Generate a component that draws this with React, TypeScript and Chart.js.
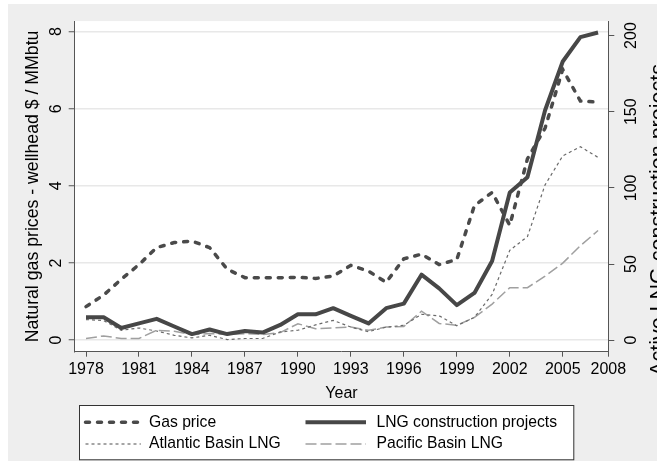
import React, { useEffect, useRef } from 'react';
import { Chart, registerables } from 'chart.js';

Chart.register(...registerables);

// ---------- data ----------
const years = [
  1978, 1979, 1980, 1981, 1982, 1983, 1984, 1985, 1986, 1987,
  1988, 1989, 1990, 1991, 1992, 1993, 1994, 1995, 1996, 1997,
  1998, 1999, 2000, 2001, 2002, 2003, 2004, 2005, 2006, 2007,
];
const gasPrice = [
  0.87, 1.17, 1.58, 1.96, 2.4, 2.53, 2.57, 2.4, 1.84, 1.62,
  1.62, 1.62, 1.63, 1.6, 1.66, 1.94, 1.79, 1.5, 2.11, 2.23,
  1.96, 2.09, 3.49, 3.83, 2.98, 4.7, 5.5, 7.02, 6.2, 6.17,
];
const lngProjects = [
  15, 15, 8, 11, 14, 9, 4, 7, 4, 6,
  5, 10, 17, 17, 21, 16, 11, 21, 24, 43,
  34, 23, 31, 52, 97, 107, 151, 183, 199, 202,
];
const atlanticLNG = [
  13.5, 12.9, 6.5, 8, 6, 3.2, 1.5, 3.2, 0.4, 1.1,
  1.1, 5.4, 6.5, 10, 13, 8.6, 5.6, 8.6, 9.7, 17,
  16, 9.5, 15, 30, 59, 68, 102, 121, 127, 120,
];
const pacificLNG = [
  1.1, 2.8, 1.1, 1.1, 6.5, 5.8, 3.7, 4.3, 3.7, 4.3,
  3.7, 5, 10.8, 7.5, 8, 8.6, 6.5, 8.6, 9, 19,
  11, 9.7, 15, 23.7, 34.5, 34.5, 42, 50.6, 62, 72,
];
const xTickYears = [1978, 1981, 1984, 1987, 1990, 1993, 1996, 1999, 2002, 2005, 2008];
const leftTicks = [0, 2, 4, 6, 8];
const rightTicks = [0, 50, 100, 150, 200];

const X_MIN = 1977.36;
const X_MAX = 2007.58;
const Y_MIN = -0.299;
const Y_MAX = 8.273;
const Y1_MIN = -7.57;
const Y1_MAX = 209.5;

const FONT = '"Liberation Sans", Arial, Helvetica, sans-serif';
const AXIS = '#555555';

const pts = (vals: number[]) => years.map((y, i) => ({ x: y, y: vals[i] }));

const legendLayout = [
  { ds: 0, col: 0, row: 0 },
  { ds: 1, col: 1, row: 0 },
  { ds: 2, col: 0, row: 1 },
  { ds: 3, col: 1, row: 1 },
];

const decorPlugin = {
  id: 'decor',
  beforeDraw(chart: any) {
    const { ctx, width, height, chartArea: a } = chart;
    ctx.save();
    ctx.fillStyle = '#eeeeee';
    ctx.fillRect(0, 0, width, height);
    ctx.fillStyle = '#ffffff';
    ctx.fillRect(a.left, a.top, a.right - a.left, a.bottom - a.top);
    ctx.restore();
  },
  afterDraw(chart: any) {
    const { ctx } = chart;
    // right axis title (reads bottom to top, partly cut by the edge)
    ctx.save();
    ctx.translate(657, 216);
    ctx.rotate(-Math.PI / 2);
    ctx.font = `21.5px ${FONT}`;
    ctx.fillStyle = '#000';
    ctx.textAlign = 'center';
    ctx.textBaseline = 'alphabetic';
    ctx.fillText('Active LNG construction projects', 0, 0);
    ctx.restore();

    // legend box
    ctx.save();
    const bx = 71, by = 401, bw = 494.3, bh = 54.3;
    ctx.fillStyle = '#ffffff';
    ctx.fillRect(bx, by, bw, bh);
    ctx.strokeStyle = '#333';
    ctx.lineWidth = 1;
    ctx.strokeRect(bx + 0.5, by + 0.5, bw, bh);
    const rowY = [418.3, 440];
    const sampleX = [[77.5, 133], [297.5, 358]];
    const textX = [141, 368.5];
    legendLayout.forEach(({ ds, col, row }) => {
      const d: any = chart.data.datasets[ds];
      const y = rowY[row];
      ctx.save();
      ctx.strokeStyle = d.borderColor;
      ctx.lineWidth = d.borderWidth;
      ctx.lineCap = d.borderCapStyle || 'butt';
      ctx.setLineDash(d.borderDash || []);
      ctx.beginPath();
      ctx.moveTo(sampleX[col][0], y);
      ctx.lineTo(sampleX[col][1], y);
      ctx.stroke();
      ctx.restore();
      ctx.font = `15.7px ${FONT}`;
      ctx.fillStyle = '#000';
      ctx.textAlign = 'left';
      ctx.textBaseline = 'middle';
      ctx.fillText(d.label, textX[col], y);
    });
    ctx.restore();
  },
};

export default function App() {
  const ref = useRef<HTMLCanvasElement>(null);

  useEffect(() => {
    const canvas = ref.current!;
    const tickFont = { family: FONT, size: 16 };
    const chart = new Chart(canvas, {
      type: 'line',
      data: {
        datasets: [
          {
            label: 'Gas price',
            data: pts(gasPrice),
            yAxisID: 'y',
            borderColor: '#4a4a4a',
            borderWidth: 3.5,
            borderDash: [4, 8],
            borderCapStyle: 'round',
            pointRadius: 0,
            tension: 0,
            fill: false,
          },
          {
            label: 'LNG construction projects',
            data: pts(lngProjects),
            yAxisID: 'y1',
            borderColor: '#474747',
            borderWidth: 4,
            borderJoinStyle: 'round',
            pointRadius: 0,
            tension: 0,
            fill: false,
          },
          {
            label: 'Atlantic Basin LNG',
            data: pts(atlanticLNG),
            yAxisID: 'y1',
            borderColor: '#6a6a6a',
            borderWidth: 1.2,
            borderDash: [3, 3],
            pointRadius: 0,
            tension: 0,
            fill: false,
          },
          {
            label: 'Pacific Basin LNG',
            data: pts(pacificLNG),
            yAxisID: 'y1',
            borderColor: '#a0a0a0',
            borderWidth: 1.5,
            borderDash: [11, 4],
            pointRadius: 0,
            tension: 0,
            fill: false,
          },
        ],
      },
      options: {
        animation: false,
        responsive: false,
        devicePixelRatio: 1,
        layout: { padding: { top: 12, bottom: 57.4, left: 0, right: 0 } },
        plugins: { legend: { display: false }, tooltip: { enabled: false } },
        scales: {
          x: {
            type: 'linear',
            position: 'bottom',
            min: X_MIN,
            max: X_MAX,
            afterBuildTicks: (s: any) => {
              s.ticks = xTickYears.map((v) => ({ value: Math.min(v, X_MAX) }));
            },
            afterFit: (s: any) => {
              s.height = 51.9;
            },
            ticks: {
              autoSkip: false,
              minRotation: 0,
              maxRotation: 0,
              padding: 3.7,
              color: '#000',
              font: tickFont,
              callback: (_v: any, i: number) => String(xTickYears[i]),
            },
            grid: {
              drawOnChartArea: false,
              drawTicks: true,
              tickLength: 5,
              tickColor: AXIS,
              tickWidth: 1,
            },
            border: { display: true, color: AXIS, width: 1 },
            title: {
              display: true,
              text: 'Year',
              color: '#000',
              font: { family: FONT, size: 16 },
              padding: { top: 0, bottom: 0 },
            },
          },
          y: {
            type: 'linear',
            position: 'left',
            min: Y_MIN,
            max: Y_MAX,
            afterBuildTicks: (s: any) => {
              s.ticks = leftTicks.map((v) => ({ value: v }));
            },
            afterFit: (s: any) => {
              s.width = 66.7;
            },
            ticks: {
              autoSkip: false,
              minRotation: 90,
              maxRotation: 90,
              crossAlign: 'center',
              padding: 7.5,
              color: '#000',
              font: tickFont,
              callback: (v: any) => String(v),
            },
            grid: {
              color: '#e8e8e8',
              lineWidth: 1.5,
              drawTicks: true,
              tickLength: 6,
              tickColor: AXIS,
              tickWidth: 1,
            },
            border: { display: true, color: AXIS, width: 1 },
            title: {
              display: true,
              text: 'Natural gas prices - wellhead $ / MMbtu',
              color: '#000',
              font: { family: FONT, size: 17.7 },
              padding: { top: 14.7, bottom: 0 },
            },
          },
          y1: {
            type: 'linear',
            position: 'right',
            min: Y1_MIN,
            max: Y1_MAX,
            afterBuildTicks: (s: any) => {
              s.ticks = rightTicks.map((v) => ({ value: v }));
            },
            afterFit: (s: any) => {
              s.width = 48.7;
            },
            ticks: {
              autoSkip: false,
              minRotation: 90,
              maxRotation: 90,
              crossAlign: 'center',
              padding: 4,
              color: '#000',
              font: tickFont,
              callback: (v: any) => String(v),
            },
            grid: {
              drawOnChartArea: false,
              drawTicks: true,
              tickLength: 6,
              tickColor: AXIS,
              tickWidth: 1,
            },
            border: { display: true, color: AXIS, width: 1 },
          },
        },
      } as any,
      plugins: [decorPlugin],
    });
    return () => chart.destroy();
  }, []);

  return (
    <div
      style={{
        position: 'fixed',
        left: 0,
        top: 0,
        width: 657,
        height: 461,
        background: '#ffffff',
        overflow: 'hidden',
      }}
    >
      <canvas
        ref={ref}
        width={649}
        height={457}
        style={{ position: 'absolute', left: 8, top: 4, width: 649, height: 457 }}
      />
    </div>
  );
}
